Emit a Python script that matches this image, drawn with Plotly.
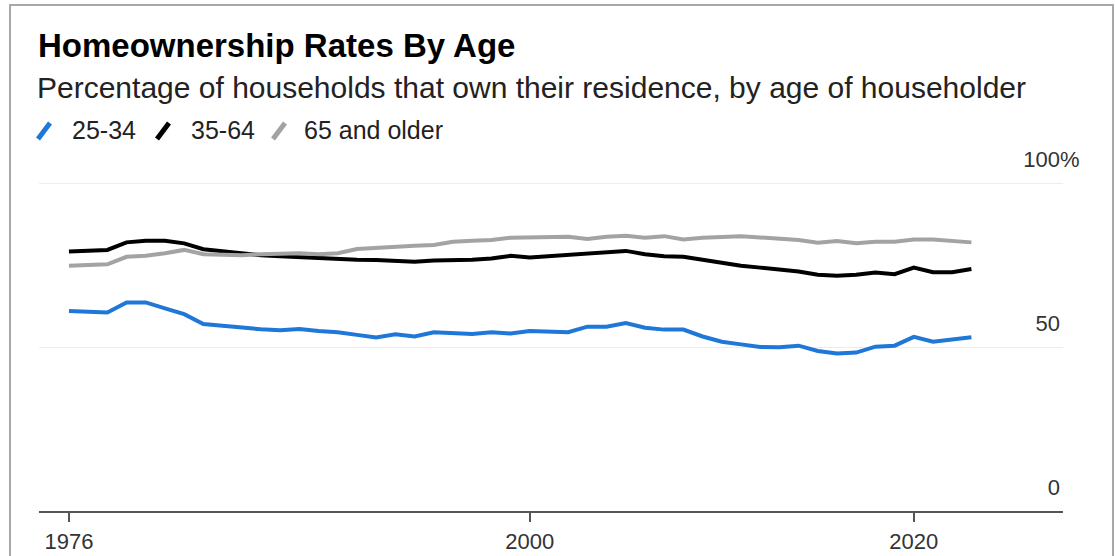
import plotly.graph_objects as go

# ---- data ----
years = list(range(1976, 2024))
series_names = ["25-34", "35-64", "65 and older"]
age_25_34 = [61.0, 60.8, 60.5, 63.6, 63.6, 61.8, 60.0, 57.0, 56.4, 55.9,
             55.4, 55.1, 55.5, 54.9, 54.5, 53.7, 52.9, 53.9, 53.2, 54.5,
             54.2, 54.0, 54.5, 54.1, 54.9, 54.7, 54.5, 56.2, 56.2, 57.3,
             55.9, 55.3, 55.3, 53.2, 51.6, 50.8, 50.0, 49.9, 50.4, 48.8,
             48.0, 48.3, 50.1, 50.4, 53.1, 51.6, 52.3, 53.0]
age_35_64 = [79.1, 79.2, 79.6, 81.9, 82.4, 82.4, 81.6, 79.8, 79.1, 78.6,
             78.0, 77.7, 77.4, 77.1, 76.9, 76.6, 76.5, 76.4, 76.0, 76.4,
             76.4, 76.6, 77.0, 77.8, 77.3, 77.7, 78.3, 78.4, 79.1, 79.3,
             78.3, 77.7, 77.5, 76.5, 75.7, 74.8, 74.2, 73.7, 73.0, 72.0,
             71.7, 72.0, 72.7, 72.2, 74.2, 72.8, 72.8, 73.8]
age_65_up = [74.8, 74.9, 75.2, 77.5, 77.8, 78.6, 79.6, 78.3, 78.0, 78.0,
             78.3, 78.6, 78.6, 78.3, 78.6, 79.9, 80.3, 80.6, 80.9, 81.1,
             82.1, 82.4, 82.6, 83.3, 83.3, 83.4, 83.6, 82.9, 83.6, 83.9,
             83.3, 83.8, 82.8, 83.3, 83.6, 83.8, 83.4, 83.1, 82.6, 81.8,
             82.3, 81.6, 82.1, 82.1, 82.8, 82.8, 82.4, 81.9]
x_tick_vals = [1976, 2000, 2020]
y_tick_vals = [0, 50, 100]
y_tick_text = ["0", "50", "100"]

title_text = "Homeownership Rates By Age"
subtitle_text = "Percentage of households that own their residence, by age of householder"

colors = ["#1f78d8", "#000000", "#a3a3a3"]

# ---- layout geometry (pixels) ----
W, H = 1115, 556
ML, MR, MT, MB = 39, 52, 140, 45
PW = W - ML - MR
PH = H - MT - MB
Y_TOP = 100 * PH / 328.0   # keeps 100 at y=183 px


def px(xp):
    return (xp - ML) / PW


def py(yp):
    return (H - MB - yp) / PH


FONT = "Liberation Sans, Arial, sans-serif"

fig = go.Figure()
for name, vals, col in zip(series_names, [age_25_34, age_35_64, age_65_up], colors):
    fig.add_trace(go.Scatter(x=years, y=vals, mode="lines", name=name,
                             line=dict(color=col, width=4), showlegend=False,
                             hoverinfo="skip"))

annotations = [
    dict(text="<b>" + title_text + "</b>", x=px(36), y=py(45), xref="paper", yref="paper",
         xanchor="left", yanchor="middle", showarrow=False,
         font=dict(family=FONT, size=33, color="#000000")),
    dict(text=subtitle_text, x=px(35), y=py(87), xref="paper", yref="paper",
         xanchor="left", yanchor="middle", showarrow=False,
         font=dict(family=FONT, size=30, color="#222222")),
    dict(text="%", x=1.0, y=100, xref="paper", yref="y", xanchor="left",
         yanchor="bottom", showarrow=False, yshift=9, xshift=-5,
         font=dict(family=FONT, size=22, color="#333333")),
]

shapes = []
legend_slash_x = [38, 157, 273]
legend_text_x = [70, 189, 302]
for name, col, sx, tx in zip(series_names, colors, legend_slash_x, legend_text_x):
    shapes.append(dict(type="line", xref="paper", yref="paper",
                       x0=px(sx), y0=py(139), x1=px(sx + 12), y1=py(123),
                       line=dict(color=col, width=5)))
    annotations.append(dict(text=name, x=px(tx), y=py(130), xref="paper", yref="paper",
                            xanchor="left", yanchor="middle", showarrow=False,
                            font=dict(family=FONT, size=25, color="#222222")))

# frame
shapes.append(dict(type="rect", xref="paper", yref="paper",
                   x0=px(10), x1=px(1113), y0=py(600), y1=py(5),
                   line=dict(color="#a8a8a8", width=2), fillcolor="rgba(0,0,0,0)", layer="above"))

fig.update_layout(
    template="none",
    width=W, height=H,
    margin=dict(l=ML, r=MR, t=MT, b=MB, pad=0, autoexpand=False),
    paper_bgcolor="white", plot_bgcolor="white",
    annotations=annotations, shapes=shapes, showlegend=False,
    xaxis=dict(range=[1974.44, 2027.77], tickvals=x_tick_vals, ticks="outside",
               ticklen=9, tickwidth=1.5, tickcolor="#555555", showline=True,
               linecolor="#555555", linewidth=2, showgrid=False, zeroline=False,
               automargin=False, ticklabelstandoff=1,
               tickfont=dict(family=FONT, size=22, color="#333333")),
    yaxis=dict(range=[0, Y_TOP], side="right", tickvals=y_tick_vals, ticktext=y_tick_text,
               ticks="", showgrid=True, gridcolor="#ededed", gridwidth=1,
               zeroline=False, showline=False, ticklabelposition="inside top",
               automargin=False, ticklabelshift=-8, ticklabelstandoff=0,
               tickfont=dict(family=FONT, size=22, color="#333333")),
)

fig.write_html("out.html")
